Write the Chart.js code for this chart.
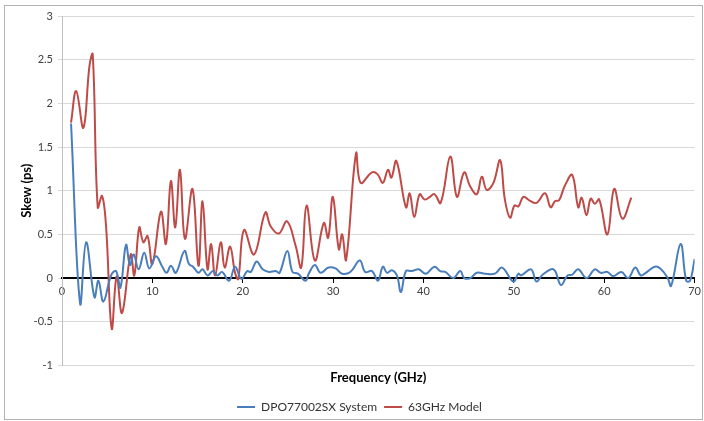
<!DOCTYPE html>
<html>
<head>
<meta charset="utf-8">
<script src="https://cdn.jsdelivr.net/npm/chart.js@4/dist/chart.umd.min.js"></script>
<style>
  html, body { margin: 0; padding: 0; background: #fff; }
</style>
</head>
<body>
<canvas id="skewChart" width="704" height="421"></canvas>
<script>
// Werte (GHz / ps)
const freqSystem = [1.0, 2.0, 2.67, 3.59, 4.03, 4.58, 5.43, 5.98, 6.46, 7.08, 7.52, 7.93, 8.48, 9.1, 9.66,
  10.4, 11.1, 11.57, 12.05, 12.6, 13.55, 14.05, 14.5, 15.1, 15.55, 16.1, 16.7, 17.2, 17.7, 18.5, 19.15,
  19.85, 20.5, 20.9, 21.54, 22.2, 22.9, 23.64, 24.08, 24.93, 25.5, 26.1, 26.95, 27.3, 27.98, 28.6, 29.5,
  30.26, 31.0, 31.9, 32.95, 33.55, 34.3, 34.97, 35.5, 35.96, 36.5, 37.06, 37.5, 38.06, 38.7, 39.46,
  40.27, 41.2, 41.85, 42.4, 43.3, 44.06, 44.5, 45.2, 45.9, 46.8, 47.9, 48.7, 49.94, 50.5, 50.8, 51.9,
  52.5, 53.2, 54.4, 55.2, 55.94, 56.46, 57.12, 58.04, 58.96, 59.6, 60.35, 60.98, 61.9, 62.64, 63.44,
  64.04, 64.6, 65.6, 66.2, 66.98, 67.4, 68.45, 69.07, 69.5, 70.0];
const skewSystem = [1.77, -0.29, 0.41, -0.22, -0.03, -0.27, 0.03, 0.08, -0.11, 0.38, 0.15, 0.27, 0.10, 0.29, 0.11,
  0.25, 0.13, 0.06, 0.14, 0.06, 0.31, 0.16, 0.13, 0.06, 0.10, 0.03, 0.08, 0.03, 0.07, -0.03, 0.13,
  -0.01, 0.08, 0.07, 0.19, 0.10, 0.07, 0.08, 0.06, 0.31, 0.07, 0.05, -0.03, 0.05, 0.15, 0.06, 0.12,
  0.11, 0.05, 0.07, 0.20, 0.07, 0.08, -0.03, 0.13, 0.06, 0.09, 0.03, -0.16, 0.08, 0.08, 0.10,
  0.05, 0.13, 0.08, 0.07, 0.00, 0.08, 0.00, 0.00, 0.06, 0.05, 0.05, 0.12, -0.04, 0.05, 0.03, 0.10,
  -0.04, 0.04, 0.10, -0.08, 0.03, 0.04, 0.10, 0.00, 0.10, 0.06, 0.07, 0.02, 0.07, 0.00, 0.12,
  0.03, 0.06, 0.13, 0.11, 0.01, -0.09, 0.39, -0.03, -0.03, 0.22];

const freqModel = [1.0, 1.57, 2.37, 3.04, 3.4, 3.95, 4.43, 4.87, 5.5, 6.05, 6.64, 7.6, 8.0, 8.55, 9.0, 9.47,
  10.0, 10.95, 11.5, 12.05, 12.53, 13.05, 13.6, 14.44, 15.1, 15.55, 16.1, 16.5, 16.94, 17.57, 18.0,
  18.6, 19.15, 19.5, 20.14, 21.25, 22.5, 23.1, 24.0, 24.9, 25.85, 26.47, 27.06, 27.98, 28.97, 29.45,
  29.97, 30.63, 31.0, 31.44, 32.54, 33.05, 34.3, 34.9, 35.5, 36.07, 36.45, 37.0, 38.06, 38.47, 38.98,
  39.57, 40.1, 40.6, 41.2, 41.9, 42.96, 43.7, 44.5, 45.16, 45.9, 46.45, 47.0, 47.74, 48.48, 49.0,
  49.58, 50.06, 50.5, 51.05, 51.7, 52.5, 53.44, 54.07, 54.55, 55.0, 55.65, 56.46, 57.12, 57.5, 58.04,
  58.5, 58.96, 59.44, 60.35, 61.1, 62.0, 63.0];
const skewModel = [1.78, 2.14, 1.72, 2.43, 2.56, 0.81, 0.94, 0.60, -0.58, 0.02, -0.40, 0.27, 0.03, 0.58, 0.41, 0.48,
  0.16, 0.76, 0.39, 1.11, 0.58, 1.24, 0.45, 1.02, 0.14, 0.88, 0.10, 0.39, 0.03, 0.41, 0.12,
  0.36, 0.06, -0.01, 0.55, 0.27, 0.75, 0.59, 0.51, 0.65, 0.37, 0.12, 0.83, 0.20, 0.63, 0.46,
  0.93, 0.33, 0.50, 0.21, 1.43, 1.09, 1.21, 1.19, 1.09, 1.24, 1.15, 1.34, 0.81, 0.97, 0.70,
  0.96, 0.90, 0.92, 0.96, 0.86, 1.39, 0.93, 1.21, 1.05, 0.96, 1.16, 1.01, 1.09, 1.35, 0.90,
  0.69, 0.83, 0.82, 0.93, 0.89, 0.86, 0.97, 0.81, 0.88, 0.89, 1.06, 1.18, 0.81, 0.92, 0.72,
  0.91, 0.85, 0.90, 0.50, 1.02, 0.68, 0.92];

const xTicks = [0, 10, 20, 30, 40, 50, 60, 70];
const yTicks = [-1, -0.5, 0, 0.5, 1, 1.5, 2, 2.5, 3];

const fontFamily = 'Lato, "Open Sans", sans-serif';
const toPoints = (xs, ys) => xs.map((x, i) => ({x: x, y: ys[i]}));

// Rahmen um das Diagramm, Legende etwas verschieben
const frame = {
  id: 'frame',
  afterLayout(chart) {
    chart.legend.left += 11;
    chart.legend.right += 11;
    chart.legend.top += 2;
    chart.legend.bottom += 2;
  },
  afterDraw(chart) {
    const c = chart.ctx;
    c.save();
    c.strokeStyle = '#b3b3b3';
    c.lineWidth = 1;
    c.strokeRect(4.5, 5.5, 698, 414);
    c.restore();
  }
};

new Chart(document.getElementById('skewChart'), {
  type: 'line',
  data: {
    datasets: [{
      label: 'DPO77002SX System',
      data: toPoints(freqSystem, skewSystem),
      borderColor: '#4a7ebb',
      backgroundColor: '#4a7ebb',
      borderWidth: 2,
      pointRadius: 0,
      tension: 0.4
    }, {
      label: '63GHz Model',
      data: toPoints(freqModel, skewModel),
      borderColor: '#be4b48',
      backgroundColor: '#be4b48',
      borderWidth: 2,
      pointRadius: 0,
      tension: 0.4
    }]
  },
  options: {
    responsive: false,
    animation: false,
    layout: { padding: { left: 0, right: 7, top: 16, bottom: 0 } },
    plugins: {
      legend: {
        position: 'bottom',
        labels: {
          usePointStyle: true,
          pointStyle: 'line',
          pointStyleWidth: 18,
          padding: 7,
          color: '#333',
          font: { family: fontFamily, size: 12 }
        }
      },
      tooltip: { enabled: false }
    },
    scales: {
      x: {
        type: 'linear',
        min: 0,
        max: 70,
        position: { y: 0 },
        afterBuildTicks: s => { s.ticks = xTicks.map(v => ({value: v})); },
        ticks: { color: '#404040', padding: 3, maxRotation: 0, font: { family: fontFamily, size: 11 } },
        grid: { drawOnChartArea: false, color: '#000', tickLength: 4 },
        border: { color: '#000', width: 2 }
      },
      x2: {
        type: 'linear',
        axis: 'x',
        position: 'bottom',
        min: 0,
        max: 70,
        afterFit: s => { s.height = 26.6; },
        ticks: { display: false },
        grid: { display: false },
        border: { display: false },
        title: {
          display: true,
          text: 'Frequency (GHz)',
          color: '#000',
          padding: { top: 4, bottom: 6 },
          font: { family: fontFamily, size: 13, weight: 'bold' }
        }
      },
      y: {
        min: -1,
        max: 3,
        afterBuildTicks: s => { s.ticks = yTicks.map(v => ({value: v})); },
        afterFit: s => { s.width = 62; },
        ticks: { color: '#404040', padding: 5, callback: v => String(v), font: { family: fontFamily, size: 11 } },
        grid: { color: '#d9d9d9', tickLength: 4 },
        border: { color: '#bfbfbf' },
        title: {
          display: true,
          text: 'Skew (ps)',
          color: '#000',
          padding: { top: 19, bottom: 19 },
          font: { family: fontFamily, size: 13, weight: 'bold' }
        }
      }
    }
  },
  plugins: [frame]
});
</script>
</body>
</html>
